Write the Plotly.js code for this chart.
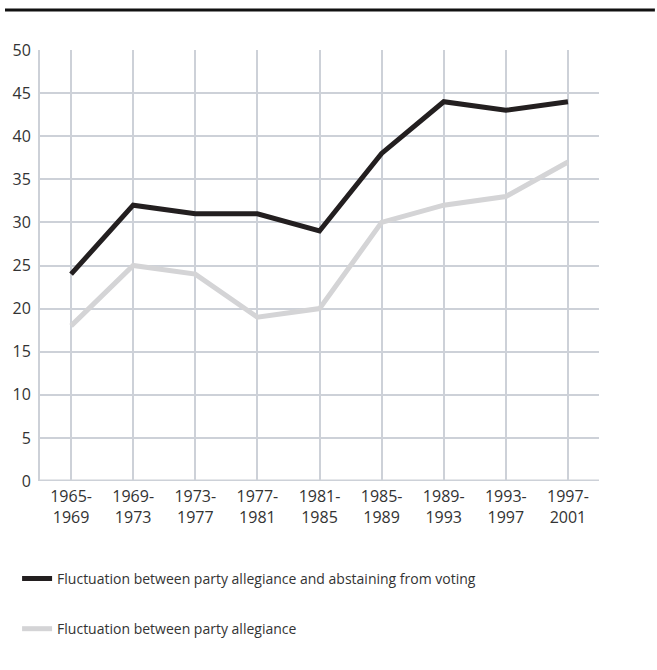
<!DOCTYPE html>
<html><head><meta charset="utf-8">
<script src="https://cdn.plot.ly/plotly-3.0.1.min.js"></script>
<style>body{margin:0;padding:0;background:#fff}#chart{width:657px;height:670px}</style>
</head><body><div id="chart"></div>
<script>
const periods = ["1965-<br>1969","1969-<br>1973","1973-<br>1977","1977-<br>1981","1981-<br>1985","1985-<br>1989","1989-<br>1993","1993-<br>1997","1997-<br>2001"];
const abstainSeries = [24,32,31,31,29,38,44,43,44];
const partySeries = [18,25,24,19,20,30,32,33,37];
const yTicks = [0,5,10,15,20,25,30,35,40,45,50];
const seriesNames = ["Fluctuation between party allegiance and abstaining from voting","Fluctuation between party allegiance"];

const gridColor = "#cdd1d8";
const traces = [
  {x: periods, y: abstainSeries, name: seriesNames[0], type:"scatter", mode:"lines",
   line:{color:"#231f20", width:5}, legendgroup:"a"},
  {x: periods, y: partySeries, name: seriesNames[1], type:"scatter", mode:"lines",
   line:{color:"#d4d4d6", width:5}, legendgroup:"b"}
];
const layout = {
  width:657, height:670,
  margin:{l:40, r:58, t:50, b:189},
  paper_bgcolor:"#fff", plot_bgcolor:"#fff",
  font:{family:"Open Sans, sans-serif", size:16, color:"#333"},
  xaxis:{type:"category", range:[-0.5,8.5], showgrid:true, gridcolor:gridColor, gridwidth:2,
    showline:false, zeroline:false, ticks:"", tickfont:{size:16,color:"#333"}, ticklabelstandoff:4, fixedrange:true},
  yaxis:{range:[0,50], tickvals:yTicks, showgrid:true, gridcolor:gridColor, gridwidth:2,
    showline:true, linecolor:gridColor, linewidth:2, zeroline:false, ticks:"",
    tickfont:{size:16,color:"#333"}, ticklabelstandoff:4, fixedrange:true},
  showlegend:true,
  legend:{orientation:"v", x:-0.041, xanchor:"left", y:-0.19, yanchor:"top",
    font:{size:14, color:"#333"}, tracegroupgap:29, bgcolor:"rgba(0,0,0,0)"},
  shapes:[
    {type:"line", xref:"paper", yref:"paper", x0:-0.0626, x1:1.1, y0:1.093, y1:1.093,
     line:{color:"#111", width:3}},
    {type:"line", xref:"paper", yref:"y", x0:0, x1:1, y0:0, y1:0, line:{color:gridColor, width:3}}
  ]
};
Plotly.newPlot("chart", traces, layout, {displayModeBar:false, staticPlot:true});
</script></body></html>
